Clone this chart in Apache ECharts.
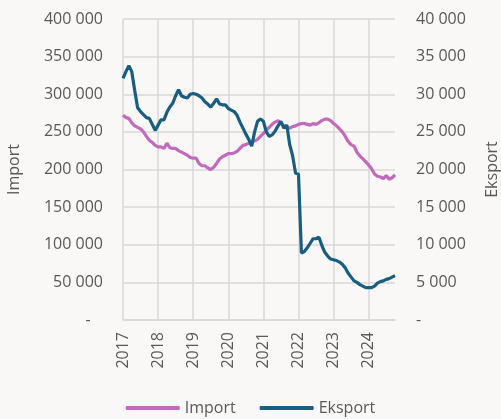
<!DOCTYPE html>
<html>
<head>
    <meta charset="utf-8">
    <title>Import / Eksport</title>
    <script src="https://cdn.jsdelivr.net/npm/echarts@6/dist/echarts.min.js"></script>
    <style>
        html, body { margin: 0; padding: 0; background: #f9f8f7; }
        #chart { width: 501px; height: 419px; }
    </style>
</head>
<body>
<div id="chart"></div>
<script>
    // månedlige verdier, jan 2017 - okt 2024
    var years = ['2017', '2018', '2019', '2020', '2021', '2022', '2023', '2024'];

    var importData = [
        272000, 269000, 268000, 262000, 258000, 256000, 254000, 250000, 244000, 239000, 236000, 232000,
        230000, 230000, 228000, 235000, 229000, 228000, 228000, 225000, 223000, 221000, 219000, 216000,
        215000, 215000, 208000, 205000, 205000, 202000, 200000, 203000, 208000, 214000, 217000, 219000,
        221000, 221000, 222000, 224000, 228000, 232000, 233000, 235000, 236000, 238000, 240000, 244000,
        248000, 252000, 256000, 260000, 263000, 265000, 261000, 258000, 256000, 255000, 257000, 258000,
        260000, 261000, 261000, 260000, 259000, 261000, 260000, 262000, 265000, 267000, 267000, 265000,
        261000, 258000, 254000, 250000, 244000, 237000, 233000, 231000, 223000, 218000, 214000, 210000,
        206000, 201000, 194000, 191000, 190000, 188000, 192000, 187000, 189000, 193000
    ];

    var eksportData = [
        32100, 33000, 33800, 33000, 30500, 28200, 27700, 27300, 26900, 26800, 26000, 25200,
        25900, 26600, 26600, 27600, 28300, 28800, 29800, 30600, 29800, 29600, 29500, 30000,
        30100, 30000, 29800, 29500, 29000, 28700, 28300, 28800, 29400, 28700, 28600, 28600,
        28100, 27900, 27700, 27200, 26300, 25500, 24700, 24000, 23100, 25000, 26400, 26700,
        26400, 25000, 24400, 24600, 25100, 25800, 26400, 25500, 25900, 23300, 21800, 19500,
        19400, 8900, 9100, 9600, 10200, 10800, 10800, 11000, 9900, 9000, 8500, 8100,
        8000, 7900, 7700, 7400, 6900, 6200, 5700, 5200, 5000, 4700, 4500, 4300,
        4300, 4300, 4500, 4900, 5100, 5200, 5400, 5500, 5700, 5900
    ];

    var months = [];
    for (var i = 0; i < importData.length; i++) {
        var y = years[Math.floor(i / 12)];
        var mm = (i % 12) + 1;
        months.push(y + '-' + (mm < 10 ? '0' + mm : mm));
    }

    var textColor = '#595959';
    var gridColor = '#d9d9d9';
    var font = '"Open Sans", Roboto, sans-serif';

    function fmt(v) {
        if (v === 0) return '-';
        return String(v).replace(/\B(?=(\d{3})+(?!\d))/g, ' ');
    }

    var isYearStart = function (idx) { return idx % 12 === 0; };

    var chart = echarts.init(document.getElementById('chart'));

    var option = {
        backgroundColor: '#f9f8f7',
        animation: false,
        textStyle: { fontFamily: font },
        grid: {
            left: 123, right: 106, top: 19, bottom: 99,
            containLabel: false,
            outerBoundsMode: 'none'
        },
        legend: {
            bottom: -2,
            left: 'center',
            itemWidth: 54,
            itemHeight: 4,
            itemGap: 24,
            icon: 'roundRect',
            textStyle: { color: textColor, fontSize: 16, fontFamily: font },
            data: ['Import', 'Eksport']
        },
        xAxis: {
            type: 'category',
            data: months,
            boundaryGap: false,
            axisLine: { show: true, lineStyle: { color: gridColor, width: 1.5 } },
            axisTick: { show: false },
            axisLabel: {
                interval: isYearStart,
                rotate: 90,
                color: textColor,
                fontSize: 16,
                margin: 12,
                formatter: function (v) { return v.slice(0, 4); }
            },
            splitLine: { show: true, interval: isYearStart, lineStyle: { color: gridColor, width: 1.5 } }
        },
        yAxis: [
            {
                type: 'value',
                name: 'Import',
                nameLocation: 'middle',
                nameRotate: 90,
                nameGap: 101,
                nameTextStyle: { color: textColor, fontSize: 16 },
                min: 0, max: 400000, interval: 50000,
                axisLine: { show: false },
                axisTick: { show: false },
                axisLabel: {
                    color: textColor, fontSize: 16, margin: 20,
                    formatter: function (v) { return v === 0 ? '-   ' : fmt(v); }
                },
                splitLine: { show: true, lineStyle: { color: gridColor, width: 1.5 } }
            },
            {
                type: 'value',
                name: 'Eksport',
                nameLocation: 'middle',
                nameRotate: 90,
                nameGap: 89,
                nameTextStyle: { color: textColor, fontSize: 16 },
                min: 0, max: 40000, interval: 5000,
                axisLine: { show: false },
                axisTick: { show: false },
                axisLabel: {
                    color: textColor, fontSize: 16, margin: 21,
                    formatter: function (v) { return v === 0 ? '-' : fmt(v); }
                },
                splitLine: { show: false }
            }
        ],
        series: [
            {
                name: 'Import',
                type: 'line',
                yAxisIndex: 0,
                data: importData,
                showSymbol: false,
                symbol: 'none',
                lineStyle: { color: '#c26bbc', width: 3.2 },
                itemStyle: { color: '#c26bbc' }
            },
            {
                name: 'Eksport',
                type: 'line',
                yAxisIndex: 1,
                data: eksportData,
                showSymbol: false,
                symbol: 'none',
                lineStyle: { color: '#175e80', width: 3.2 },
                itemStyle: { color: '#175e80' }
            }
        ]
    };

    chart.setOption(option);

    window.onresize = function () {
        chart.resize();
    };
</script>
</body>
</html>
